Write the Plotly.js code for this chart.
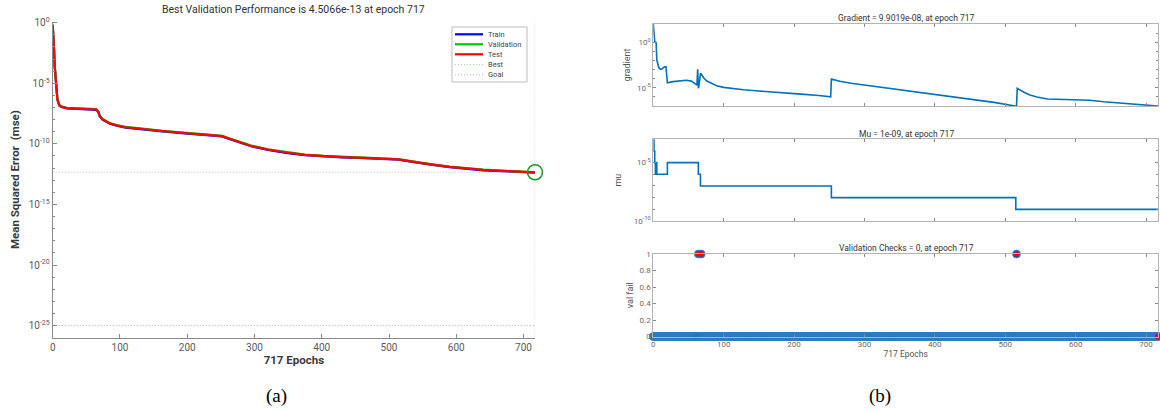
<!DOCTYPE html>
<html><head><meta charset="utf-8">
<script src="https://cdn.plot.ly/plotly-3.0.1.min.js"></script>
<style>html,body{margin:0;padding:0;background:#fff}#chart{width:1160px;height:412px}</style>
</head><body><div id="chart"></div>
<script>
// ---------- (a) performance data ----------
const perfEpochs = [0,1,2,3,5,7,10,14,21,40,60,65,68,70,74,78,85,95,108,130,162,200,230,252,260,275,295,320,349,375,402,430,455,485,514,530,545,562,590,615,640,668,695,717];
const trainPerf = [6.5e-1,1.3e-1,5.6e-3,2.4e-4,1.0e-5,4.3e-7,1.4e-7,1.05e-7,8.5e-8,7.9e-8,7.1e-8,6.5e-8,4.0e-8,1.8e-8,1.0e-8,7.1e-9,4.5e-9,3.2e-9,2.2e-9,1.66e-9,1.05e-9,7.1e-10,5.2e-10,4.1e-10,2.8e-10,1.4e-10,6.3e-11,3.2e-11,1.74e-11,1.17e-11,9.1e-12,7.6e-12,6.8e-12,5.9e-12,4.9e-12,3.5e-12,2.5e-12,1.9e-12,1.17e-12,8.3e-13,6.6e-13,5.6e-13,4.8e-13,4.15e-13];
const validPerf = [7.0e-1,1.4e-1,6.2e-3,2.7e-4,1.2e-5,5.0e-7,1.6e-7,1.2e-7,9.6e-8,8.9e-8,8.0e-8,7.3e-8,4.6e-8,2.1e-8,1.15e-8,8.1e-9,5.1e-9,3.6e-9,2.5e-9,1.88e-9,1.19e-9,8.0e-10,5.9e-10,4.6e-10,3.2e-10,1.6e-10,7.2e-11,3.6e-11,1.97e-11,1.32e-11,1.03e-11,8.6e-12,7.7e-12,6.7e-12,5.6e-12,4.0e-12,2.85e-12,2.15e-12,1.32e-12,9.3e-13,7.4e-13,6.2e-13,5.2e-13,4.5066e-13];
const testPerf = [6.7e-1,1.35e-1,5.9e-3,2.5e-4,1.1e-5,4.6e-7,1.5e-7,1.12e-7,9.0e-8,8.4e-8,7.5e-8,6.9e-8,4.3e-8,1.95e-8,1.08e-8,7.6e-9,4.8e-9,3.4e-9,2.35e-9,1.76e-9,1.12e-9,7.5e-10,5.5e-10,4.35e-10,3.0e-10,1.5e-10,6.7e-11,3.4e-11,1.85e-11,1.24e-11,9.7e-12,8.1e-12,7.2e-12,6.3e-12,5.2e-12,3.7e-12,2.65e-12,2.0e-12,1.24e-12,8.8e-13,7.0e-13,5.9e-13,5.0e-13,4.35e-13];
const bestEpoch = 717;
const bestPerf = 4.5066e-13;
const goalPerf = 1e-25;
const legendNames = ['Train','Validation','Test','Best','Goal'];
const perfTickVals = [1,1e-5,1e-10,1e-15,1e-20,1e-25];
const perfTickText = ['10<sup>0</sup>','10<sup>-5</sup>','10<sup>-10</sup>','10<sup>-15</sup>','10<sup>-20</sup>','10<sup>-25</sup>'];
const epochTicks = [0,100,200,300,400,500,600,700];

// ---------- (b) training state data ----------
const gradEpochs = [0,1,2,3,4,5,6,8,10,12,14,16,18,19,20,28,38,47,54,59,62,63,64,65,67,69,72,76,82,90,100,113,128,150,179,210,235,252,253,257,265,281,300,332,382,433,484,514,516,517,522,528,535,545,560,575,600,620,640,660,680,700,717];
const gradValues = [1e2,2.0,1.15,1.0,0.9,1.1e-2,4e-3,1.5e-3,1.1e-3,1.07e-3,1.5e-3,2.0e-3,2.0e-3,2e-4,3.6e-5,4.7e-5,5.8e-5,6.6e-5,5.4e-5,3.1e-5,2.0e-5,1.1e-3,8.7e-6,2.0e-5,3.9e-4,2.5e-4,1.1e-4,5.5e-5,3.2e-5,1.7e-5,1.1e-5,7.6e-6,6.0e-6,4.4e-6,3.2e-6,2.0e-6,1.4e-6,1.0e-6,9.1e-5,7.6e-5,5.2e-5,3.1e-5,2.0e-5,9.3e-6,2.9e-6,8.9e-7,2.5e-7,1.0e-7,1.0e-7,8.7e-6,5.0e-6,2.8e-6,1.6e-6,9.5e-7,5.9e-7,5.2e-7,4.7e-7,4.2e-7,2.9e-7,2.2e-7,1.6e-7,1.17e-7,9.9019e-8];
const muEpochs = [0,1,2,3,4,5,20,64,67,253,515,717];
const muValues = [1e-3,1e-4,1e-5,1e-6,1e-5,1e-6,1e-5,1e-6,1e-7,1e-8,1e-9,1e-9];
const lastEpoch = 717;
const valFailEpochs = [64,68,516];
const gradTickVals = [1,1e-5];
const gradTickText = ['10<sup>0</sup>','10<sup>-5</sup>'];
const muTickVals = [1e-5,1e-10];
const muTickText = ['10<sup>-5</sup>','10<sup>-10</sup>'];
const valTickVals = [0,0.2,0.4,0.6,0.8,1];
const valTickText = ['0','0.2','0.4','0.6','0.8','1'];

// full val-fail series over every epoch (0 except the listed epochs)
const allEpochs = Array.from({length: lastEpoch + 1}, (_, i) => i);
const valFail = allEpochs.map(e => valFailEpochs.includes(e) ? 1 : 0);
const redX = valFailEpochs.concat([lastEpoch]);
const redY = valFailEpochs.map(() => 1).concat([valFail[lastEpoch]]);

const decades = (lo, hi) => { const a = []; for (let p = lo; p <= hi; p++) a.push(Math.pow(10, p)); return a; };

// ---------- layout helpers ----------
const W = 1160, H = 412;
const px = x => x / W;
const py = y => 1 - y / H;
const F = 'Roboto, "Liberation Sans", Arial, sans-serif';
const fineDot = '1px,2px';

const traces = [
  {x:[0,lastEpoch], y:[goalPerf,goalPerf], mode:'lines', line:{color:'#a8a8a8', width:1, dash:fineDot}, xaxis:'x', yaxis:'y', hoverinfo:'skip'},
  {x:[0,lastEpoch], y:[bestPerf,bestPerf], mode:'lines', line:{color:'#bdbdbd', width:1, dash:fineDot}, xaxis:'x', yaxis:'y', hoverinfo:'skip'},
  {x:[bestEpoch,bestEpoch], y:[1e-26,1.3], mode:'lines', line:{color:'#9ad89a', width:1, dash:fineDot}, xaxis:'x', yaxis:'y', hoverinfo:'skip'},
  {x:perfEpochs, y:trainPerf, mode:'lines', name:legendNames[0], line:{color:'#0000ff', width:2.2}, xaxis:'x', yaxis:'y'},
  {x:perfEpochs, y:validPerf, mode:'lines', name:legendNames[1], line:{color:'#00c000', width:2.2}, xaxis:'x', yaxis:'y'},
  {x:perfEpochs, y:testPerf, mode:'lines', name:legendNames[2], line:{color:'#ff0000', width:2.2}, xaxis:'x', yaxis:'y'},
  {x:[bestEpoch], y:[bestPerf], mode:'markers', marker:{symbol:'circle-open', size:15, color:'#1a9a2a', line:{width:1.6, color:'#1a9a2a'}}, cliponaxis:false, xaxis:'x', yaxis:'y'},
  {x:gradEpochs, y:gradValues, mode:'lines', line:{color:'#0072BD', width:1.6}, xaxis:'x2', yaxis:'y2'},
  {x:muEpochs, y:muValues, mode:'lines', line:{color:'#0072BD', width:1.6, shape:'hv'}, xaxis:'x3', yaxis:'y3'},
  {x:allEpochs, y:valFail, mode:'markers', marker:{symbol:'circle', size:8, color:'#125fa9', line:{color:'#3d86cc', width:0.7}}, cliponaxis:false, xaxis:'x4', yaxis:'y4'},
  {x:redX, y:redY, mode:'markers', marker:{symbol:'circle', size:5, color:'#ff0000'}, cliponaxis:false, xaxis:'x4', yaxis:'y4'}
];

const leftAxisCommon = {showline:true, linecolor:'#8a8a8a', linewidth:1, ticks:'inside', ticklen:4, tickcolor:'#8a8a8a', showgrid:false, zeroline:false, tickfont:{family:F, size:10, color:'#5a5a5a'}};
const rightAxisCommon = {showline:true, mirror:'ticks', linecolor:'#b4b4b4', linewidth:1, ticks:'inside', ticklen:3, tickcolor:'#8a8a8a', showgrid:false, zeroline:false, tickfont:{family:F, size:8, color:'#6a6a6a'}};
const minorCommon = {ticks:'inside', ticklen:2, tickcolor:'#8a8a8a', showgrid:false};

const rx = [px(653.3), px(1158)];
const rightX = (anchor, labels) => Object.assign({}, rightAxisCommon, {domain:rx, anchor:anchor, range:[0,lastEpoch], tickvals:epochTicks, showticklabels:labels});

const layout = {
  width:W, height:H, margin:{l:0,r:0,t:0,b:0}, showlegend:false,
  paper_bgcolor:'#fff', plot_bgcolor:'rgba(0,0,0,0)', font:{family:F},
  xaxis: Object.assign({}, leftAxisCommon, {domain:[px(52.7), px(535)], anchor:'y', range:[0,lastEpoch], tickvals:epochTicks,
    title:{text:'717 Epochs', font:{family:F, size:11.5, color:'#3a3a3a', weight:'bold'}, standoff:4}}),
  yaxis: Object.assign({}, leftAxisCommon, {domain:[py(337.7), py(21.5)], anchor:'x', type:'log', range:[-26,0.1],
    tickvals:perfTickVals, ticktext:perfTickText, minor:Object.assign({tickvals:decades(-26,0)}, minorCommon),
    title:{text:'Mean Squared Error  (mse)', font:{family:F, size:11.5, color:'#3a3a3a', weight:'bold'}, standoff:6}}),
  xaxis2: rightX('y2', false),
  yaxis2: Object.assign({}, rightAxisCommon, {domain:[py(106), py(24)], anchor:'x2', type:'log', range:[-7,2],
    tickvals:gradTickVals, ticktext:gradTickText, minor:Object.assign({tickvals:decades(-7,2)}, minorCommon),
    title:{text:'gradient', font:{family:F, size:9, color:'#555'}, standoff:4}}),
  xaxis3: rightX('y3', false),
  yaxis3: Object.assign({}, rightAxisCommon, {domain:[py(221), py(139.3)], anchor:'x3', type:'log', range:[-10,-3],
    tickvals:muTickVals, ticktext:muTickText, minor:Object.assign({tickvals:decades(-10,-3)}, minorCommon),
    title:{text:'mu', font:{family:F, size:9, color:'#555'}, standoff:10}}),
  xaxis4: Object.assign(rightX('y4', true), {title:{text:'717 Epochs', font:{family:F, size:8.5, color:'#555'}, standoff:2}}),
  yaxis4: Object.assign({}, rightAxisCommon, {domain:[py(336.5), py(254)], anchor:'x4', range:[0,1],
    tickvals:valTickVals, ticktext:valTickText,
    title:{text:'val fail', font:{family:F, size:9, color:'#555'}, standoff:4}}),
  shapes: [
    {type:'rect', xref:'paper', yref:'paper', x0:px(452), x1:px(527), y0:py(82), y1:py(27), line:{color:'#bdbdbd', width:1}, fillcolor:'#fff', layer:'above'}
  ],
  annotations: [
    {text:'Best Validation Performance is 4.5066e-13 at epoch 717', xref:'paper', yref:'paper', x:px(293), y:py(10), xanchor:'center', yanchor:'middle', showarrow:false, font:{family:F, size:10.5, color:'#333'}},
    {text:'Gradient = 9.9019e-08, at epoch 717', xref:'paper', yref:'paper', x:px(906), y:py(17.5), xanchor:'center', yanchor:'middle', showarrow:false, font:{family:F, size:8.5, color:'#333'}},
    {text:'Mu = 1e-09, at epoch 717', xref:'paper', yref:'paper', x:px(906), y:py(133.5), xanchor:'center', yanchor:'middle', showarrow:false, font:{family:F, size:8.5, color:'#333'}},
    {text:'Validation Checks = 0, at epoch 717', xref:'paper', yref:'paper', x:px(906), y:py(247.5), xanchor:'center', yanchor:'middle', showarrow:false, font:{family:F, size:8.5, color:'#333'}},
    {text:'(a)', xref:'paper', yref:'paper', x:px(276), y:py(396), xanchor:'center', yanchor:'middle', showarrow:false, font:{family:'"Liberation Serif", "DejaVu Serif", serif', size:19, color:'#000'}},
    {text:'(b)', xref:'paper', yref:'paper', x:px(880), y:py(396), xanchor:'center', yanchor:'middle', showarrow:false, font:{family:'"Liberation Serif", "DejaVu Serif", serif', size:19, color:'#000'}}
  ]
};

// custom compact legend for (a)
const legendStyles = [
  {color:'#0000ff', width:2.2, dash:'solid'},
  {color:'#00c000', width:2.2, dash:'solid'},
  {color:'#ff0000', width:2.2, dash:'solid'},
  {color:'#9ad89a', width:1, dash:fineDot},
  {color:'#b5b5b5', width:1, dash:fineDot}
];
const legendRows = [34.3, 44.3, 54.3, 64.6, 74.8];
legendNames.forEach((name, i) => {
  layout.shapes.push({type:'line', xref:'paper', yref:'paper', x0:px(455), x1:px(483), y0:py(legendRows[i]), y1:py(legendRows[i]), line:legendStyles[i], layer:'above'});
  layout.annotations.push({text:name, xref:'paper', yref:'paper', x:px(486), y:py(legendRows[i]), xanchor:'left', yanchor:'middle', showarrow:false, font:{family:F, size:7.5, color:'#444'}});
});

Plotly.newPlot('chart', traces, layout, {staticPlot:true, displayModeBar:false});
</script></body></html>
